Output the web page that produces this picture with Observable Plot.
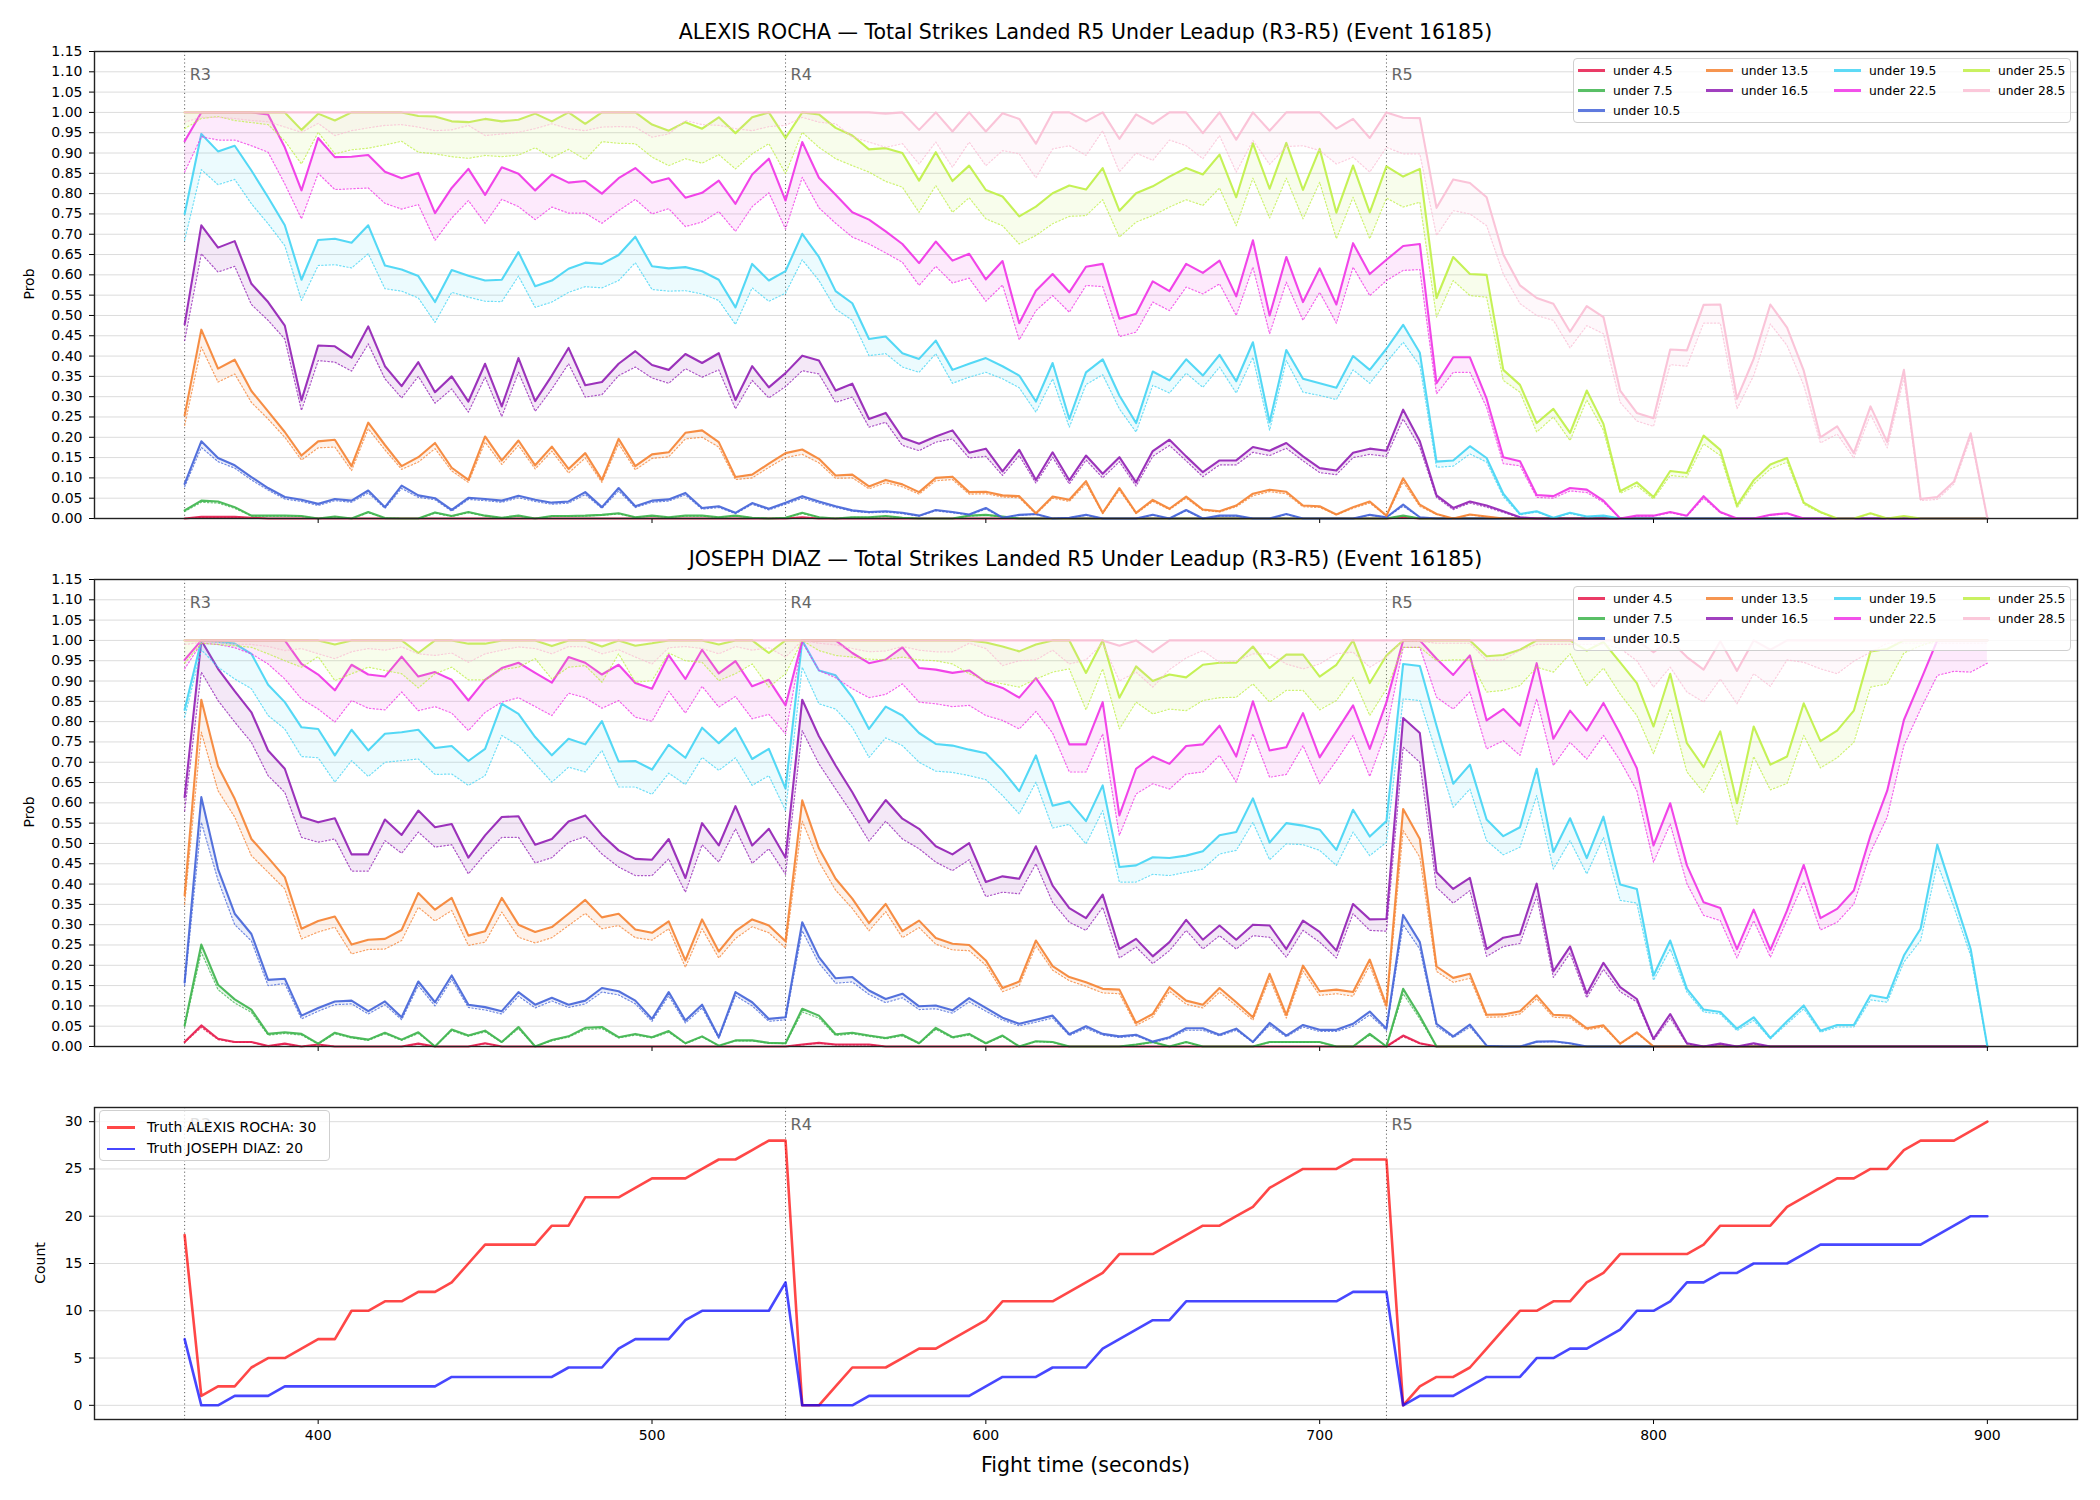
<!DOCTYPE html>
<html><head><meta charset="utf-8">
<script src="https://cdn.jsdelivr.net/npm/d3@7"></script>
<script src="https://cdn.jsdelivr.net/npm/@observablehq/plot@0.6"></script>
<style>
body{margin:0;background:#fff;}
#root{position:relative;width:2100px;height:1500px;background:#fff;font-family:"DejaVu Sans",sans-serif;color:#000;overflow:hidden}
.abs{position:absolute}
.ttl{position:absolute;left:94px;width:1983px;text-align:center;font-size:20.5px;line-height:1;white-space:nowrap}
.ylab{position:absolute;font-size:14px;line-height:1;transform:translate(-50%,-50%) rotate(-90deg);white-space:nowrap}
.leg{position:absolute;background:rgba(255,255,255,0.8);border:1px solid #cfcfcf;border-radius:4px;box-sizing:border-box}
.li{position:absolute;height:2.2px;}
.lt{position:absolute;line-height:1;white-space:nowrap;transform:translateY(-50%)}
</style></head><body><div id="root"></div><script>
// ---------- data ----------
const times = [360,365,370,375,380,385,390,395,400,405,410,415,420,425,430,435,440,445,450,455,460,465,470,475,480,485,490,495,500,505,510,515,520,525,530,535,540,545,550,555,560,565,570,575,580,585,590,595,600,605,610,615,620,625,630,635,640,645,650,655,660,665,670,675,680,685,690,695,700,705,710,715,720,725,730,735,740,745,750,755,760,765,770,775,780,785,790,795,800,805,810,815,820,825,830,835,840,845,850,855,860,865,870,875,880,885,890,895,900];
const lineLabels = ["under 4.5","under 7.5","under 10.5","under 13.5","under 16.5","under 19.5","under 22.5","under 25.5","under 28.5"];
const lineColors = ["#e6194b","#3cb44b","#4363d8","#f58231","#911eb4","#42d4f4","#f032e6","#bfef45","#fabed4"];
const roundStarts = [360,540,720];
const roundLabels = ["R3","R4","R5"];
const probTicks = [0,0.05,0.1,0.15,0.2,0.25,0.3,0.35,0.4,0.45,0.5,0.55,0.6,0.65,0.7,0.75,0.8,0.85,0.9,0.95,1,1.05,1.1,1.15];
const countTicks = [0,5,10,15,20,25,30];
const xTicks = [400,500,600,700,800,900];

// ALEXIS ROCHA
const rochaU45 = [0,0.004,0.004,0.004,0.002,0,0,0,0,0,0,0,0,0,0,0,0,0,0,0,0,0,0,0,0,0,0, 0,0,0,0,0,0,0,0,0,0,0.003,0,0,0,0,0,0,0,0,0,0,0,0,0,0,0,0, 0,0,0,0,0,0,0,0,0,0,0,0,0,0,0,0,0,0,0,0.003,0,0,0,0,0,0,0, 0,0,0,0,0,0,0,0,0,0,0,0,0,0,0,0,0,0,0,0,0,0,0,0,0,0,0,0];
const rochaU45Lo = [0,0.003,0.003,0.003,0.001,0,0,0,0,0,0,0,0,0,0,0,0,0,0,0,0,0,0,0,0,0,0, 0,0,0,0,0,0,0,0,0,0,0.002,0,0,0,0,0,0,0,0,0,0,0,0,0,0,0,0, 0,0,0,0,0,0,0,0,0,0,0,0,0,0,0,0,0,0,0,0.002,0,0,0,0,0,0,0, 0,0,0,0,0,0,0,0,0,0,0,0,0,0,0,0,0,0,0,0,0,0,0,0,0,0,0,0];
const rochaU75 = [0.02,0.044,0.042,0.028,0.007,0.007,0.007,0.006,0,0.005,0,0.016,0.001,0,0,0.015,0.006,0.016,0.007,0.002,0.007,0,0.006,0.006,0.007,0.009,0.013, 0.003,0.007,0.003,0.007,0.007,0.003,0.007,0.002,0,0.002,0.014,0.003,0,0.003,0.003,0.006,0.002,0,0,0,0.007,0.009,0.005,0,0,0,0, 0,0,0,0,0,0,0,0,0,0,0,0,0,0,0,0,0,0,0,0.007,0,0,0,0,0,0,0, 0,0,0,0,0,0,0,0,0,0,0,0,0,0,0,0,0,0,0,0,0,0,0,0,0,0,0,0];
const rochaU75Lo = [0.017,0.04,0.038,0.025,0.006,0.006,0.006,0.005,0,0.004,0,0.014,0.001,0,0,0.013,0.005,0.014,0.006,0.002,0.006,0,0.005,0.005,0.006,0.008,0.011, 0.003,0.006,0.003,0.006,0.006,0.003,0.006,0.002,0,0.002,0.012,0.003,0,0.003,0.003,0.005,0.002,0,0,0,0.006,0.008,0.004,0,0,0,0, 0,0,0,0,0,0,0,0,0,0,0,0,0,0,0,0,0,0,0,0.006,0,0,0,0,0,0,0, 0,0,0,0,0,0,0,0,0,0,0,0,0,0,0,0,0,0,0,0,0,0,0,0,0,0,0,0];
const rochaU105 = [0.085,0.19,0.149,0.131,0.102,0.075,0.053,0.046,0.036,0.048,0.044,0.069,0.028,0.081,0.057,0.05,0.021,0.051,0.048,0.044,0.056,0.046,0.039,0.042,0.065,0.028,0.075, 0.03,0.044,0.047,0.063,0.026,0.03,0.014,0.038,0.024,0.039,0.055,0.042,0.03,0.02,0.016,0.018,0.014,0.007,0.021,0.016,0.01,0.026,0.002,0.009,0.011,0,0.002, 0.009,0,0,0,0.009,0,0.021,0,0.007,0.007,0,0,0.011,0,0,0,0,0.009,0.003,0.034,0.003,0,0,0,0,0,0, 0,0,0,0,0,0,0,0,0,0,0,0,0,0,0,0,0,0,0,0,0,0,0,0,0,0,0,0];
const rochaU105Lo = [0.078,0.175,0.14,0.124,0.095,0.07,0.048,0.042,0.032,0.044,0.04,0.063,0.025,0.074,0.052,0.046,0.018,0.047,0.044,0.04,0.051,0.042,0.035,0.038,0.059,0.025,0.068, 0.027,0.04,0.043,0.058,0.023,0.027,0.012,0.035,0.021,0.035,0.05,0.038,0.027,0.018,0.014,0.016,0.012,0.006,0.019,0.014,0.009,0.023,0.002,0.008,0.01,0,0.002, 0.008,0,0,0,0.008,0,0.019,0,0.006,0.006,0,0,0.01,0,0,0,0,0.008,0.003,0.03,0.003,0,0,0,0,0,0, 0,0,0,0,0,0,0,0,0,0,0,0,0,0,0,0,0,0,0,0,0,0,0,0,0,0,0,0];
const rochaU135 = [0.254,0.465,0.369,0.391,0.314,0.264,0.213,0.155,0.19,0.194,0.129,0.236,0.181,0.129,0.151,0.186,0.125,0.095,0.202,0.143,0.192,0.131,0.177,0.122,0.161,0.095,0.196, 0.129,0.158,0.163,0.211,0.217,0.188,0.102,0.108,0.135,0.161,0.17,0.147,0.106,0.108,0.079,0.095,0.084,0.065,0.1,0.103,0.065,0.066,0.057,0.055,0.013,0.054,0.046, 0.092,0.014,0.075,0.014,0.046,0.024,0.054,0.022,0.018,0.032,0.061,0.071,0.066,0.032,0.03,0.01,0.028,0.042,0.007,0.099,0.034,0.011,0,0.01,0.005,0,0, 0,0,0,0,0,0,0,0,0,0,0,0,0,0,0,0,0,0,0,0,0,0,0,0,0,0,0,0];
const rochaU135Lo = [0.229,0.422,0.336,0.356,0.286,0.245,0.2,0.144,0.174,0.176,0.118,0.221,0.169,0.121,0.139,0.172,0.117,0.089,0.188,0.133,0.18,0.122,0.166,0.112,0.149,0.089,0.184, 0.12,0.148,0.152,0.196,0.2,0.176,0.096,0.1,0.126,0.15,0.158,0.137,0.099,0.1,0.073,0.088,0.078,0.06,0.093,0.096,0.06,0.061,0.053,0.051,0.011,0.05,0.042, 0.086,0.012,0.07,0.012,0.042,0.022,0.05,0.02,0.016,0.029,0.056,0.066,0.061,0.029,0.027,0.009,0.025,0.038,0.006,0.09,0.03,0.01,0,0.009,0.004,0,0, 0,0,0,0,0,0,0,0,0,0,0,0,0,0,0,0,0,0,0,0,0,0,0,0,0,0,0,0];
const rochaU165 = [0.478,0.722,0.667,0.683,0.578,0.533,0.475,0.291,0.426,0.424,0.396,0.473,0.375,0.326,0.385,0.311,0.35,0.288,0.381,0.276,0.395,0.289,0.352,0.42,0.328,0.336,0.381, 0.412,0.378,0.366,0.405,0.383,0.407,0.292,0.375,0.323,0.358,0.401,0.389,0.315,0.332,0.245,0.26,0.199,0.184,0.202,0.217,0.162,0.172,0.116,0.169,0.095,0.163,0.094, 0.155,0.11,0.151,0.089,0.166,0.194,0.153,0.114,0.143,0.143,0.176,0.167,0.186,0.153,0.124,0.118,0.162,0.172,0.167,0.268,0.19,0.057,0.026,0.042,0.032,0.018,0.003, 0,0,0,0,0,0,0,0,0,0,0,0,0,0,0,0,0,0,0,0,0,0,0,0,0,0,0,0];
const rochaU165Lo = [0.438,0.652,0.607,0.621,0.527,0.488,0.442,0.266,0.389,0.385,0.363,0.43,0.344,0.297,0.35,0.284,0.319,0.262,0.348,0.251,0.36,0.264,0.319,0.381,0.299,0.305,0.352, 0.373,0.346,0.333,0.369,0.348,0.366,0.27,0.34,0.297,0.325,0.364,0.356,0.286,0.299,0.225,0.237,0.18,0.167,0.188,0.196,0.149,0.153,0.106,0.155,0.087,0.151,0.085, 0.144,0.1,0.14,0.08,0.153,0.18,0.142,0.103,0.132,0.132,0.163,0.155,0.173,0.142,0.113,0.108,0.15,0.158,0.153,0.245,0.175,0.052,0.022,0.038,0.028,0.015,0.002, 0,0,0,0,0,0,0,0,0,0,0,0,0,0,0,0,0,0,0,0,0,0,0,0,0,0,0,0];
const rochaU195 = [0.75,0.947,0.904,0.918,0.857,0.791,0.722,0.588,0.686,0.689,0.679,0.722,0.623,0.613,0.597,0.533,0.612,0.598,0.586,0.588,0.656,0.572,0.586,0.615,0.63,0.627,0.649, 0.694,0.621,0.616,0.619,0.609,0.588,0.52,0.627,0.586,0.609,0.701,0.644,0.56,0.53,0.442,0.448,0.407,0.393,0.438,0.366,0.381,0.395,0.375,0.352,0.288,0.383,0.245, 0.36,0.392,0.303,0.235,0.362,0.34,0.392,0.352,0.403,0.338,0.434,0.237,0.415,0.344,0.333,0.322,0.4,0.366,0.418,0.477,0.408,0.14,0.143,0.178,0.149,0.061,0.011, 0.018,0.002,0.014,0.005,0.007,0,0,0,0,0,0,0,0,0,0,0,0,0,0,0,0,0,0,0,0,0,0,0];
const rochaU195Lo = [0.685,0.859,0.822,0.835,0.775,0.726,0.672,0.537,0.623,0.625,0.617,0.652,0.566,0.56,0.543,0.483,0.557,0.545,0.535,0.534,0.597,0.52,0.533,0.557,0.571,0.568,0.586, 0.63,0.564,0.56,0.561,0.553,0.537,0.478,0.568,0.535,0.555,0.637,0.586,0.516,0.488,0.401,0.406,0.373,0.36,0.406,0.333,0.348,0.36,0.344,0.322,0.262,0.344,0.225, 0.33,0.354,0.27,0.213,0.328,0.309,0.358,0.323,0.373,0.309,0.397,0.217,0.389,0.311,0.303,0.293,0.366,0.333,0.385,0.434,0.377,0.126,0.129,0.159,0.139,0.054,0.009, 0.016,0.002,0.012,0.004,0.006,0,0,0,0,0,0,0,0,0,0,0,0,0,0,0,0,0,0,0,0,0,0,0];
const rochaU225 = [0.929,1,1,1,1,0.995,0.914,0.808,0.937,0.89,0.891,0.895,0.854,0.838,0.851,0.752,0.814,0.861,0.797,0.865,0.849,0.808,0.847,0.827,0.831,0.8,0.838, 0.863,0.827,0.838,0.79,0.802,0.832,0.775,0.847,0.886,0.783,0.927,0.839,0.797,0.754,0.736,0.707,0.676,0.629,0.682,0.635,0.652,0.589,0.634,0.481,0.561,0.602,0.557, 0.62,0.627,0.492,0.504,0.584,0.56,0.627,0.605,0.635,0.547,0.685,0.5,0.644,0.533,0.616,0.527,0.678,0.602,0.637,0.671,0.676,0.333,0.397,0.397,0.295,0.151,0.141, 0.058,0.055,0.075,0.071,0.044,0,0.007,0.007,0.016,0.007,0.055,0.016,0,0,0.009,0.013,0,0,0,0,0,0,0,0,0,0,0,0];
const rochaU225Lo = [0.853,0.94,0.932,0.932,0.918,0.902,0.824,0.738,0.85,0.81,0.812,0.814,0.776,0.762,0.773,0.685,0.74,0.783,0.727,0.786,0.768,0.736,0.767,0.752,0.752,0.727,0.758, 0.786,0.75,0.763,0.719,0.73,0.756,0.707,0.768,0.802,0.713,0.84,0.765,0.727,0.693,0.676,0.654,0.631,0.574,0.621,0.58,0.592,0.535,0.575,0.44,0.512,0.549,0.508, 0.574,0.571,0.448,0.459,0.533,0.512,0.57,0.553,0.578,0.5,0.619,0.455,0.582,0.488,0.557,0.481,0.619,0.549,0.586,0.611,0.613,0.307,0.36,0.36,0.274,0.135,0.13, 0.052,0.05,0.068,0.064,0.04,0,0.006,0.006,0.014,0.006,0.05,0.014,0,0,0.008,0.012,0,0,0,0,0,0,0,0,0,0,0,0];
const rochaU255 = [1,1,1,1,1,1,1,0.957,0.997,0.98,1,1,1,1,0.991,0.99,0.978,0.976,0.984,0.978,0.982,0.997,0.978,1,0.972,1,1, 1,0.97,0.955,0.976,0.96,0.988,0.949,0.988,1,0.937,1,0.995,0.962,0.943,0.909,0.912,0.9,0.832,0.902,0.831,0.869,0.809,0.793,0.744,0.768,0.801,0.82, 0.81,0.863,0.758,0.801,0.818,0.842,0.863,0.847,0.896,0.791,0.924,0.812,0.925,0.809,0.91,0.753,0.869,0.754,0.867,0.842,0.861,0.543,0.644,0.602,0.6,0.366,0.329, 0.235,0.27,0.211,0.315,0.233,0.067,0.089,0.053,0.117,0.112,0.204,0.169,0.032,0.094,0.133,0.149,0.039,0.016,0,0,0.013,0,0.006,0,0,0,0,0];
const rochaU255Lo = [0.96,0.985,0.99,0.98,0.975,0.97,0.93,0.873,0.951,0.898,0.908,0.912,0.92,0.929,0.902,0.898,0.891,0.887,0.894,0.891,0.895,0.913,0.888,0.909,0.884,0.928,0.924, 0.923,0.89,0.869,0.886,0.875,0.896,0.861,0.898,0.923,0.849,0.951,0.914,0.886,0.869,0.853,0.83,0.816,0.754,0.82,0.754,0.79,0.738,0.721,0.676,0.697,0.726,0.744, 0.746,0.785,0.693,0.73,0.746,0.767,0.785,0.771,0.814,0.721,0.838,0.74,0.838,0.738,0.828,0.689,0.791,0.689,0.789,0.767,0.779,0.496,0.586,0.549,0.545,0.34,0.311, 0.213,0.25,0.192,0.292,0.217,0.062,0.081,0.048,0.106,0.102,0.184,0.155,0.026,0.085,0.122,0.139,0.035,0.014,0,0,0.012,0,0.005,0,0,0,0,0];
const rochaU285 = [1,1,1,1,1,1,1,1,1,1,1,1,1,1,1,1,1,1,1,1,1,1,1,1,1,1,1, 1,1,1,1,1,1,1,1,1,1,1,1,1,1,1,0.997,1,0.957,1,0.953,1,0.953,0.998,0.984,0.923,1,1, 0.978,1,0.935,0.995,0.972,1,1,0.949,1,0.933,1,0.955,1,1,1,0.96,0.984,0.937,1,0.987,0.986,0.765,0.835,0.826,0.791,0.65,0.574, 0.543,0.529,0.46,0.523,0.496,0.315,0.26,0.247,0.416,0.414,0.526,0.527,0.295,0.393,0.527,0.47,0.364,0.2,0.227,0.161,0.276,0.188,0.366,0.048,0.053,0.091,0.21,0];
const rochaU285Lo = [0.976,0.988,0.988,0.985,0.98,0.977,0.964,0.951,0.973,0.943,0.955,0.962,0.968,0.97,0.964,0.955,0.957,0.968,0.943,0.947,0.951,0.96,0.972,0.96,0.955,0.964,0.965, 0.964,0.939,0.947,0.98,0.97,0.968,0.96,0.955,0.965,0.968,0.988,0.976,0.972,0.939,0.927,0.914,0.923,0.873,0.927,0.865,0.927,0.869,0.906,0.898,0.839,0.91,0.918, 0.894,0.955,0.854,0.9,0.882,0.932,0.918,0.886,0.943,0.853,0.931,0.872,0.916,0.918,0.906,0.873,0.89,0.853,0.914,0.898,0.898,0.697,0.758,0.75,0.721,0.602,0.529, 0.5,0.488,0.42,0.475,0.455,0.286,0.24,0.227,0.379,0.375,0.481,0.481,0.27,0.352,0.479,0.426,0.328,0.186,0.208,0.149,0.256,0.174,0.346,0.044,0.047,0.085,0.2,0];

// JOSEPH DIAZ
const diazU45 = [0.011,0.052,0.019,0.011,0.011,0.001,0.007,0,0.005,0,0,0,0,0,0.007,0,0,0,0.008,0,0,0,0,0,0,0,0, 0,0,0,0,0,0,0,0,0,0,0.005,0.009,0.005,0.005,0.005,0,0,0,0,0,0,0,0,0,0,0,0, 0,0,0,0,0,0,0,0,0,0,0,0,0,0,0,0,0,0,0,0.027,0.008,0,0,0,0,0,0, 0,0,0,0,0,0,0,0,0,0,0,0,0,0,0,0,0,0,0,0,0,0,0,0,0,0,0,0];
const diazU45Lo = [0.01,0.047,0.017,0.01,0.01,0.001,0.006,0,0.004,0,0,0,0,0,0.006,0,0,0,0.007,0,0,0,0,0,0,0,0, 0,0,0,0,0,0,0,0,0,0,0.004,0.008,0.004,0.004,0.004,0,0,0,0,0,0,0,0,0,0,0,0, 0,0,0,0,0,0,0,0,0,0,0,0,0,0,0,0,0,0,0,0.024,0.007,0,0,0,0,0,0, 0,0,0,0,0,0,0,0,0,0,0,0,0,0,0,0,0,0,0,0,0,0,0,0,0,0,0,0];
const diazU75 = [0.052,0.251,0.152,0.116,0.091,0.031,0.035,0.031,0.007,0.034,0.023,0.017,0.034,0.017,0.035,0,0.042,0.027,0.039,0.011,0.048,0,0.016,0.025,0.046,0.048,0.023, 0.031,0.023,0.038,0.008,0.025,0.002,0.015,0.015,0.009,0.008,0.093,0.076,0.03,0.034,0.027,0.021,0.029,0.008,0.046,0.023,0.031,0.008,0.027,0,0.013,0.011,0, 0,0,0,0.005,0.011,0,0.011,0,0,0,0,0.011,0.011,0.011,0.011,0,0,0.031,0,0.142,0.075,0,0,0,0,0,0, 0,0,0,0,0,0,0,0,0,0,0,0,0,0,0,0,0,0,0,0,0,0,0,0,0,0,0,0];
const diazU75Lo = [0.048,0.232,0.14,0.107,0.084,0.028,0.032,0.028,0.006,0.031,0.021,0.015,0.031,0.015,0.032,0,0.039,0.025,0.036,0.01,0.044,0,0.014,0.023,0.042,0.044,0.021, 0.028,0.021,0.035,0.007,0.023,0.002,0.014,0.014,0.008,0.007,0.085,0.07,0.027,0.031,0.025,0.019,0.026,0.007,0.042,0.021,0.028,0.007,0.025,0,0.012,0.01,0, 0,0,0,0.004,0.01,0,0.01,0,0,0,0,0.01,0.01,0.01,0.01,0,0,0.028,0,0.13,0.068,0,0,0,0,0,0, 0,0,0,0,0,0,0,0,0,0,0,0,0,0,0,0,0,0,0,0,0,0,0,0,0,0,0,0];
const diazU105 = [0.158,0.614,0.437,0.327,0.277,0.164,0.167,0.076,0.095,0.111,0.113,0.087,0.111,0.072,0.16,0.109,0.175,0.103,0.097,0.087,0.134,0.103,0.12,0.103,0.113,0.144,0.136, 0.113,0.068,0.134,0.064,0.103,0.023,0.134,0.109,0.068,0.072,0.306,0.22,0.168,0.171,0.138,0.117,0.13,0.099,0.101,0.089,0.119,0.095,0.071,0.056,0.066,0.076,0.03, 0.05,0.031,0.025,0.029,0.012,0.023,0.045,0.045,0.029,0.044,0.011,0.058,0.027,0.053,0.041,0.041,0.056,0.086,0.044,0.324,0.257,0.056,0.025,0.054,0.002,0,0, 0.012,0.013,0.008,0,0,0,0,0,0,0,0,0,0,0,0,0,0,0,0,0,0,0,0,0,0,0,0,0];
const diazU105Lo = [0.15,0.552,0.41,0.3,0.26,0.15,0.155,0.068,0.087,0.103,0.105,0.08,0.103,0.066,0.15,0.1,0.165,0.096,0.09,0.08,0.124,0.095,0.112,0.096,0.105,0.134,0.127, 0.105,0.062,0.125,0.058,0.095,0.02,0.125,0.1,0.062,0.066,0.285,0.205,0.156,0.159,0.128,0.108,0.12,0.091,0.093,0.082,0.11,0.087,0.065,0.051,0.06,0.07,0.027, 0.045,0.028,0.022,0.026,0.01,0.02,0.04,0.04,0.026,0.04,0.01,0.052,0.024,0.048,0.037,0.037,0.05,0.078,0.04,0.3,0.24,0.05,0.022,0.048,0.002,0,0, 0.011,0.012,0.007,0,0,0,0,0,0,0,0,0,0,0,0,0,0,0,0,0,0,0,0,0,0,0,0,0];
const diazU135 = [0.372,0.854,0.69,0.61,0.511,0.465,0.417,0.29,0.309,0.32,0.251,0.263,0.265,0.287,0.378,0.337,0.366,0.273,0.284,0.366,0.3,0.282,0.294,0.327,0.361,0.318,0.327, 0.288,0.28,0.308,0.212,0.313,0.234,0.284,0.313,0.298,0.259,0.606,0.488,0.413,0.364,0.304,0.351,0.284,0.31,0.267,0.253,0.25,0.212,0.144,0.16,0.261,0.198,0.171, 0.158,0.142,0.14,0.058,0.08,0.146,0.113,0.103,0.144,0.109,0.072,0.179,0.078,0.199,0.136,0.14,0.134,0.214,0.101,0.585,0.511,0.197,0.169,0.179,0.078,0.079,0.087, 0.126,0.078,0.076,0.045,0.052,0.007,0.035,0,0,0,0,0,0,0,0,0,0,0,0,0,0,0,0,0,0,0,0,0];
const diazU135Lo = [0.35,0.774,0.63,0.565,0.47,0.429,0.388,0.265,0.282,0.294,0.228,0.239,0.24,0.261,0.343,0.309,0.335,0.249,0.257,0.331,0.269,0.255,0.268,0.298,0.328,0.29,0.298, 0.268,0.262,0.29,0.195,0.29,0.218,0.266,0.295,0.28,0.243,0.555,0.455,0.385,0.34,0.285,0.332,0.268,0.293,0.252,0.238,0.236,0.2,0.135,0.15,0.248,0.188,0.162, 0.148,0.132,0.13,0.052,0.073,0.136,0.104,0.095,0.134,0.1,0.065,0.167,0.07,0.186,0.126,0.13,0.124,0.2,0.093,0.532,0.466,0.185,0.158,0.168,0.072,0.073,0.08, 0.118,0.072,0.07,0.041,0.048,0.006,0.032,0,0,0,0,0,0,0,0,0,0,0,0,0,0,0,0,0,0,0,0,0];
const diazU165 = [0.614,1,0.93,0.875,0.823,0.729,0.684,0.565,0.552,0.562,0.473,0.473,0.559,0.521,0.581,0.54,0.548,0.465,0.52,0.565,0.567,0.497,0.511,0.554,0.569,0.521,0.483, 0.462,0.46,0.511,0.415,0.55,0.495,0.592,0.495,0.536,0.465,0.854,0.764,0.692,0.626,0.552,0.607,0.561,0.536,0.493,0.473,0.501,0.405,0.419,0.413,0.493,0.396,0.341, 0.316,0.374,0.24,0.265,0.222,0.257,0.312,0.263,0.298,0.263,0.3,0.298,0.24,0.31,0.282,0.236,0.351,0.313,0.314,0.809,0.772,0.429,0.388,0.415,0.24,0.268,0.276, 0.401,0.185,0.246,0.13,0.206,0.146,0.117,0.019,0.08,0.008,0,0.007,0,0.008,0,0,0,0,0,0,0,0,0,0,0,0,0,0];
const diazU165Lo = [0.58,0.922,0.852,0.799,0.749,0.667,0.626,0.515,0.503,0.511,0.432,0.432,0.507,0.476,0.528,0.491,0.497,0.425,0.474,0.515,0.515,0.452,0.465,0.503,0.517,0.474,0.442, 0.421,0.421,0.462,0.38,0.497,0.454,0.536,0.451,0.487,0.424,0.778,0.696,0.634,0.573,0.506,0.555,0.511,0.487,0.454,0.433,0.46,0.369,0.38,0.376,0.45,0.355,0.306, 0.286,0.343,0.218,0.245,0.204,0.236,0.286,0.24,0.273,0.24,0.273,0.269,0.22,0.286,0.257,0.218,0.327,0.286,0.284,0.737,0.7,0.392,0.353,0.384,0.222,0.246,0.254, 0.37,0.17,0.23,0.12,0.19,0.135,0.11,0.015,0.07,0.006,0,0.006,0,0.006,0,0,0,0,0,0,0,0,0,0,0,0,0,0];
const diazU195 = [0.829,1,0.996,0.992,0.967,0.891,0.848,0.786,0.782,0.717,0.78,0.729,0.77,0.774,0.78,0.735,0.74,0.703,0.733,0.844,0.819,0.762,0.717,0.758,0.744,0.801,0.702, 0.703,0.682,0.743,0.711,0.785,0.747,0.784,0.708,0.733,0.635,1,0.926,0.914,0.86,0.782,0.837,0.815,0.772,0.745,0.741,0.731,0.722,0.68,0.629,0.717,0.593,0.603, 0.555,0.643,0.442,0.446,0.466,0.464,0.47,0.481,0.52,0.528,0.611,0.502,0.55,0.544,0.534,0.484,0.583,0.517,0.555,0.942,0.937,0.79,0.647,0.694,0.559,0.518,0.54, 0.684,0.479,0.562,0.464,0.566,0.399,0.388,0.175,0.261,0.142,0.091,0.085,0.044,0.072,0.021,0.062,0.101,0.039,0.053,0.053,0.126,0.119,0.224,0.29,0.497,0.369,0.24,0];
const diazU195Lo = [0.81,0.977,0.934,0.905,0.881,0.815,0.782,0.714,0.711,0.651,0.704,0.665,0.7,0.704,0.708,0.67,0.671,0.643,0.667,0.766,0.741,0.696,0.651,0.688,0.676,0.729,0.639, 0.639,0.621,0.673,0.645,0.712,0.68,0.711,0.643,0.667,0.581,0.934,0.844,0.831,0.786,0.712,0.76,0.741,0.7,0.678,0.675,0.667,0.657,0.618,0.573,0.651,0.538,0.547, 0.499,0.581,0.405,0.405,0.424,0.421,0.429,0.437,0.474,0.483,0.552,0.46,0.499,0.497,0.483,0.446,0.528,0.47,0.503,0.856,0.852,0.721,0.589,0.634,0.507,0.472,0.491, 0.618,0.437,0.507,0.425,0.515,0.36,0.353,0.163,0.24,0.134,0.085,0.08,0.039,0.064,0.019,0.056,0.093,0.035,0.048,0.048,0.115,0.109,0.208,0.261,0.45,0.343,0.224,0];
const diazU225 = [0.952,1,1,1,1,1,1,0.942,0.916,0.877,0.94,0.916,0.911,0.96,0.911,0.922,0.903,0.852,0.903,0.932,0.945,0.92,0.896,0.959,0.945,0.916,0.94, 0.895,0.881,0.964,0.905,0.977,0.919,0.949,0.887,0.903,0.84,1,1,1,0.969,0.944,0.953,0.983,0.932,0.928,0.92,0.926,0.897,0.883,0.859,0.907,0.848,0.744, 0.744,0.848,0.569,0.684,0.714,0.696,0.74,0.744,0.79,0.714,0.85,0.729,0.737,0.821,0.712,0.776,0.84,0.733,0.848,1,1,0.955,0.915,0.963,0.803,0.831,0.79, 0.944,0.758,0.827,0.778,0.846,0.77,0.685,0.495,0.599,0.446,0.355,0.341,0.24,0.337,0.238,0.335,0.447,0.316,0.339,0.384,0.52,0.63,0.804,0.901,1,1,1,1];
const diazU225Lo = [0.93,0.993,0.99,0.982,0.967,0.942,0.905,0.856,0.831,0.799,0.852,0.833,0.829,0.873,0.827,0.837,0.821,0.778,0.823,0.848,0.859,0.837,0.815,0.87,0.859,0.833,0.852, 0.811,0.801,0.875,0.821,0.887,0.836,0.862,0.807,0.818,0.77,0.996,0.926,0.908,0.881,0.859,0.867,0.893,0.848,0.844,0.837,0.84,0.815,0.803,0.782,0.825,0.772,0.676, 0.676,0.77,0.52,0.622,0.647,0.634,0.671,0.676,0.717,0.651,0.77,0.663,0.67,0.741,0.647,0.704,0.766,0.665,0.778,0.983,0.983,0.86,0.831,0.873,0.733,0.753,0.717, 0.856,0.692,0.749,0.708,0.766,0.704,0.63,0.454,0.548,0.401,0.323,0.31,0.218,0.31,0.22,0.312,0.405,0.287,0.306,0.351,0.479,0.565,0.741,0.831,0.914,0.924,0.922,0.944];
const diazU255 = [1,1,1,1,1,1,1,1,1,0.99,1,1,1,1,0.969,1,1,0.992,0.992,1,1,1,0.986,1,1,0.985,1, 0.987,0.993,1,1,1,0.99,1,1,0.969,1,1,1,1,1,1,1,1,1,1,1,1,0.995,0.985,0.973,0.99,1,1, 0.92,1,0.859,0.936,0.9,0.916,0.909,0.94,0.945,0.945,0.985,0.932,0.965,0.965,0.911,0.94,1,0.895,0.963,1,1,1,1,1,0.961,0.964,0.977, 1,1,1,0.975,0.996,0.946,0.895,0.788,0.918,0.747,0.688,0.776,0.599,0.788,0.694,0.714,0.845,0.752,0.778,0.827,0.973,0.979,1,1,1,1,1,1];
const diazU255Lo = [0.944,0.993,0.99,0.987,0.983,0.967,0.95,0.934,0.96,0.901,0.918,0.934,0.926,0.918,0.883,0.918,0.934,0.903,0.903,0.928,0.934,0.955,0.905,0.934,0.938,0.897,0.967, 0.897,0.901,0.969,0.95,0.946,0.901,0.918,0.942,0.885,0.918,1,0.975,0.963,0.959,0.954,0.952,0.959,0.952,0.95,0.942,0.918,0.901,0.893,0.885,0.905,0.922,0.93, 0.829,0.93,0.782,0.848,0.819,0.831,0.827,0.852,0.859,0.86,0.893,0.848,0.877,0.877,0.829,0.852,0.909,0.815,0.881,0.983,0.983,0.95,0.952,0.952,0.873,0.877,0.889, 0.934,0.922,0.967,0.889,0.932,0.868,0.815,0.721,0.831,0.676,0.626,0.704,0.547,0.714,0.632,0.648,0.766,0.686,0.711,0.749,0.885,0.893,0.969,0.987,1,1,1,1];
const diazU285 = [1,1,1,1,1,1,1,1,1,1,1,1,1,1,1,1,1,1,1,1,1,1,1,1,1,1,1, 1,1,1,1,1,1,1,1,1,1,1,1,1,1,1,1,1,1,1,1,1,1,1,1,1,1,1, 1,1,0.987,1,0.971,1,1,1,1,1,1,1,1,1,1,1,1,1,1,1,1,1,1,1,1,1,1, 1,1,1,1,1,1,1,0.971,1,0.959,0.928,0.998,0.925,1,0.977,1,1,1,1,1,1,1,1,1,1,1,1,1];
const diazU285Lo = [0.99,0.995,0.995,0.99,0.99,0.985,0.975,0.98,0.967,0.955,0.972,0.98,0.976,0.984,0.967,0.963,0.969,0.946,0.967,0.976,0.984,0.98,0.967,0.985,0.984,0.967,0.977, 0.959,0.942,0.982,0.985,0.98,0.967,0.985,0.976,0.982,0.959,1,0.993,0.989,0.98,0.972,0.974,0.985,0.976,0.972,0.972,0.993,0.98,0.938,0.95,0.952,0.976,0.942, 0.952,0.993,0.9,0.922,0.885,0.928,0.957,0.975,0.946,0.949,0.967,0.967,0.942,0.93,0.942,0.967,0.971,0.934,0.959,1,0.998,0.993,0.993,0.993,0.951,0.952,0.976, 0.99,0.99,0.99,0.99,0.99,0.98,0.95,0.885,0.934,0.873,0.848,0.905,0.844,0.918,0.887,0.952,0.946,0.93,0.918,0.949,0.971,0.993,0.993,0.993,0.993,0.993,0.993,0.993];

// Truth counts
const truthRocha = [18,1,2,2,4,5,5,6,7,7,10,10,11,11,12,12,13,15,17,17,17,17,19,19,22,22,22,23,24,24,24,25,26,26,27,28,28, 0,0,2,4,4,4,5,6,6,7,8,9,11,11,11,11,12,13,14,16,16,16,17,18,19,19,20,21,23,24,25,25,25,26,26,26, 0,2,3,3,4,6,8,10,10,11,11,13,14,16,16,16,16,16,17,19,19,19,19,21,22,23,24,24,25,25,27,28,28,28,29,30];
const truthDiaz = [7,0,0,1,1,1,2,2,2,2,2,2,2,2,2,2,3,3,3,3,3,3,3,4,4,4,6,7,7,7,9,10,10,10,10,10,13, 0,0,0,0,1,1,1,1,1,1,1,2,3,3,3,4,4,4,6,7,8,9,9,11,11,11,11,11,11,11,11,11,11,12,12,12, 0,1,1,1,2,3,3,3,5,5,6,6,7,8,10,10,11,13,13,14,14,15,15,15,16,17,17,17,17,17,17,17,18,19,20,20];
const truthLabels = ["Truth ALEXIS ROCHA: 30","Truth JOSEPH DIAZ: 20"];
const truthColors = ["#ff0000","#0000ff"];

// ---------- drawing ----------
const root = document.getElementById("root");
const FONT = "DejaVu Sans";
const ML = 94, MR = 23;

function place(el, top) {
  const d = document.createElement("div");
  d.className = "abs"; d.style.left = "0px"; d.style.top = top + "px";
  d.appendChild(el); root.appendChild(d);
}
function addDiv(cls, text, style) {
  const d = document.createElement("div");
  d.className = cls; d.textContent = text;
  Object.assign(d.style, style); root.appendChild(d); return d;
}

function probPanel(hiArrs, loArrs, top) {
  const marks = [
    Plot.gridY(probTicks, {stroke: "#dcdcdc", strokeOpacity: 1, strokeWidth: 1}),
    Plot.ruleX(roundStarts, {stroke: "#666", strokeWidth: 1, strokeDasharray: "1.2,2.6"}),
    Plot.text(roundStarts, {x: d => d, text: (d, i) => roundLabels[i], frameAnchor: "top", dy: 17, dx: 5, textAnchor: "start", fill: "#666", fontSize: 16})
  ];
  hiArrs.forEach((hi, k) => {
    const lo = loArrs[k];
    const rows = times.map((t, i) => ({t, hi: hi[i], lo: lo[i]}));
    const c = lineColors[k];
    marks.push(Plot.areaY(rows, {x: "t", y1: "lo", y2: "hi", fill: c, fillOpacity: 0.1}));
    marks.push(Plot.lineY(rows, {x: "t", y: "lo", stroke: c, strokeWidth: 1.2, strokeOpacity: 0.75, strokeDasharray: "1.4,2.2"}));
    marks.push(Plot.lineY(rows, {x: "t", y: "hi", stroke: c, strokeWidth: 2.1, strokeOpacity: 0.9}));
  });
  marks.push(Plot.axisY(probTicks, {tickFormat: d => d.toFixed(2), tickSize: 5, tickPadding: 7, label: null, fontSize: 14}));
  marks.push(Plot.axisX(xTicks, {tickSize: 5, tickFormat: () => "", label: null}));
  marks.push(Plot.frame({stroke: "#222", strokeWidth: 1.4}));
  const svg = Plot.plot({
    width: 2100, height: 545,
    marginLeft: ML, marginRight: MR, marginTop: 51, marginBottom: 27,
    x: {domain: [333, 927]},
    y: {domain: [0, 1.15]},
    style: {fontFamily: FONT, fontSize: "14px", background: "transparent", overflow: "visible", color: "#000"},
    marks
  });
  place(svg, top);
}

function legendProb(top) {
  const box = document.createElement("div");
  box.className = "leg";
  Object.assign(box.style, {left: "1573px", top: top + "px", width: "498px", height: "65px"});
  const colX = [4, 132, 260, 389];
  const rowY = [11.5, 31.5, 51.5];
  const layout = [[0,0],[0,1],[0,2],[1,0],[1,1],[2,0],[2,1],[3,0],[3,1]];
  lineLabels.forEach((lab, k) => {
    const [c, r] = layout[k];
    const ln = document.createElement("div");
    ln.className = "li";
    Object.assign(ln.style, {left: colX[c] + "px", top: (rowY[r] - 1.1) + "px", width: "27px", background: lineColors[k], opacity: 0.85});
    box.appendChild(ln);
    const tx = document.createElement("div");
    tx.className = "lt"; tx.textContent = lab;
    Object.assign(tx.style, {left: (colX[c] + 35) + "px", top: rowY[r] + "px", fontSize: "12.3px"});
    box.appendChild(tx);
  });
  root.appendChild(box);
}

// top panel
probPanel([rochaU45, rochaU75, rochaU105, rochaU135, rochaU165, rochaU195, rochaU225, rochaU255, rochaU285],
          [rochaU45Lo, rochaU75Lo, rochaU105Lo, rochaU135Lo, rochaU165Lo, rochaU195Lo, rochaU225Lo, rochaU255Lo, rochaU285Lo], 0);
// middle panel
probPanel([diazU45, diazU75, diazU105, diazU135, diazU165, diazU195, diazU225, diazU255, diazU285],
          [diazU45Lo, diazU75Lo, diazU105Lo, diazU135Lo, diazU165Lo, diazU195Lo, diazU225Lo, diazU255Lo, diazU285Lo], 528);

// bottom panel
{
  const rows = times.map((t, i) => ({t, r: truthRocha[i], b: truthDiaz[i]}));
  const svg = Plot.plot({
    width: 2100, height: 444,
    marginLeft: ML, marginRight: MR, marginTop: 51, marginBottom: 81,
    x: {domain: [333, 927]},
    y: {domain: [-1.5, 31.5]},
    style: {fontFamily: FONT, fontSize: "14px", background: "transparent", overflow: "visible", color: "#000"},
    marks: [
      Plot.gridY(countTicks, {stroke: "#dcdcdc", strokeOpacity: 1, strokeWidth: 1}),
      Plot.ruleX(roundStarts, {stroke: "#666", strokeWidth: 1, strokeDasharray: "1.2,2.6"}),
      Plot.text(roundStarts, {x: d => d, text: (d, i) => roundLabels[i], frameAnchor: "top", dy: 11, dx: 5, textAnchor: "start", fill: "#666", fontSize: 16}),
      Plot.lineY(rows, {x: "t", y: "r", stroke: truthColors[0], strokeOpacity: 0.72, strokeWidth: 2.6}),
      Plot.lineY(rows, {x: "t", y: "b", stroke: truthColors[1], strokeOpacity: 0.72, strokeWidth: 2.6}),
      Plot.axisY(countTicks, {tickSize: 5, tickPadding: 7, label: null, fontSize: 14}),
      Plot.axisX(xTicks, {tickSize: 5, tickPadding: 6, label: null, fontSize: 14}),
      Plot.frame({stroke: "#222", strokeWidth: 1.4})
    ]
  });
  place(svg, 1056);
}

// titles and labels
addDiv("ttl", "ALEXIS ROCHA \u2014 Total Strikes Landed R5 Under Leadup (R3-R5) (Event 16185)", {top: "22px"});
addDiv("ttl", "JOSEPH DIAZ \u2014 Total Strikes Landed R5 Under Leadup (R3-R5) (Event 16185)", {top: "549px"});
addDiv("ttl", "Fight time (seconds)", {top: "1455px"});
addDiv("ylab", "Prob", {left: "29px", top: "284px"});
addDiv("ylab", "Prob", {left: "29px", top: "812px"});
addDiv("ylab", "Count", {left: "40px", top: "1263px"});

legendProb(58);
legendProb(586);

// bottom legend
{
  const box = document.createElement("div");
  box.className = "leg";
  Object.assign(box.style, {left: "99px", top: "1110px", width: "231px", height: "51px"});
  const rowY = [16.5, 38];
  truthLabels.forEach((lab, k) => {
    const ln = document.createElement("div");
    ln.className = "li";
    Object.assign(ln.style, {left: "7px", top: (rowY[k] - 1.3) + "px", width: "28px", height: "2.6px", background: truthColors[k], opacity: 0.72});
    box.appendChild(ln);
    const tx = document.createElement("div");
    tx.className = "lt"; tx.textContent = lab;
    Object.assign(tx.style, {left: "47px", top: rowY[k] + "px", fontSize: "13.9px"});
    box.appendChild(tx);
  });
  root.appendChild(box);
}
</script></body></html>
